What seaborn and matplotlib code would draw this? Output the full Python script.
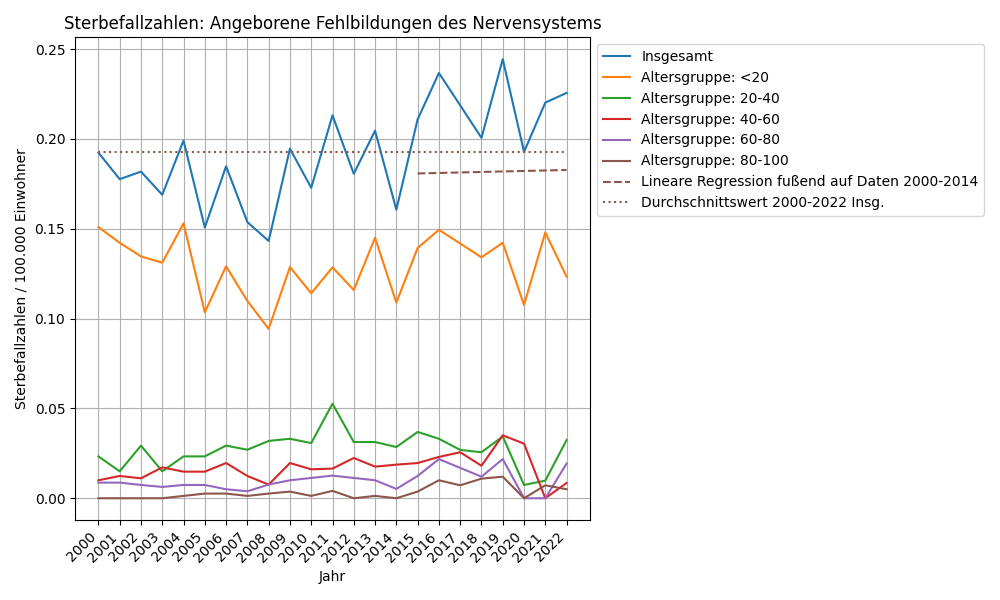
import numpy as np
import pandas as pd
import matplotlib
matplotlib.use('Agg')
import matplotlib.pyplot as plt
import seaborn as sns

jahre = list(range(2000, 2023))

insgesamt = [0.1924, 0.1776, 0.1818, 0.1689, 0.1991, 0.1507, 0.1848, 0.1537, 0.1432, 0.1946,
             0.1728, 0.2131, 0.1806, 0.2046, 0.1606, 0.2109, 0.2367, 0.2187, 0.2006, 0.2444,
             0.1928, 0.2202, 0.2256]
unter_20 = [0.1509, 0.1422, 0.1346, 0.1311, 0.1530, 0.1035, 0.1291, 0.1098, 0.0943, 0.1287,
            0.1141, 0.1285, 0.1159, 0.1450, 0.1089, 0.1393, 0.1494, 0.1418, 0.1341, 0.1422,
            0.1076, 0.1479, 0.1233]
ag_20_40 = [0.0233, 0.0150, 0.0293, 0.0150, 0.0233, 0.0233, 0.0293, 0.0270, 0.0319, 0.0331,
            0.0307, 0.0526, 0.0313, 0.0313, 0.0285, 0.0369, 0.0331, 0.0269, 0.0256, 0.0344,
            0.0074, 0.0098, 0.0324]
ag_40_60 = [0.0100, 0.0124, 0.0111, 0.0172, 0.0148, 0.0148, 0.0196, 0.0124, 0.0076, 0.0196,
            0.0161, 0.0165, 0.0224, 0.0176, 0.0187, 0.0196, 0.0230, 0.0256, 0.0181, 0.0350,
            0.0304, 0.0000, 0.0085]
ag_60_80 = [0.0087, 0.0087, 0.0074, 0.0063, 0.0074, 0.0074, 0.0050, 0.0039, 0.0076, 0.0100,
            0.0113, 0.0126, 0.0113, 0.0100, 0.0052, 0.0124, 0.0218, 0.0169, 0.0120, 0.0218,
            0.0000, 0.0000, 0.0193]
ag_80_100 = [0.0000, 0.0000, 0.0000, 0.0000, 0.0013, 0.0026, 0.0026, 0.0013, 0.0026, 0.0037,
             0.0013, 0.0041, 0.0000, 0.0013, 0.0000, 0.0037, 0.0100, 0.0072, 0.0109, 0.0120,
             0.0000, 0.0072, 0.0050]

reihen = {
    'Insgesamt': insgesamt,
    'Altersgruppe: <20': unter_20,
    'Altersgruppe: 20-40': ag_20_40,
    'Altersgruppe: 40-60': ag_40_60,
    'Altersgruppe: 60-80': ag_60_80,
    'Altersgruppe: 80-100': ag_80_100,
}

df = pd.DataFrame([
    {'Jahr': j, 'Wert': w, 'Gruppe': name}
    for name, werte in reihen.items()
    for j, w in zip(jahre, werte)
])

# Regression auf 2000-2014, Prognose 2015-2022
jahre_arr = np.array(jahre)
fit_mask = jahre_arr <= 2014
coef = np.polyfit(jahre_arr[fit_mask], np.array(insgesamt)[fit_mask], 1)
jahre_prog = jahre_arr[~fit_mask]
prog = np.polyval(coef, jahre_prog)
mittel = np.mean(insgesamt)

fig, ax = plt.subplots(figsize=(10, 6), dpi=100)
sns.lineplot(data=df, x='Jahr', y='Wert', hue='Gruppe', palette='tab10', ax=ax)
ax.plot(jahre_prog, prog, linestyle='--', color='tab:brown',
        label='Lineare Regression fußend auf Daten 2000-2014')
ax.plot(jahre, [mittel] * len(jahre), linestyle=':', color='tab:brown',
        label='Durchschnittswert 2000-2022 Insg.')

ax.set_xticks(jahre)
ax.set_xticklabels([str(j) for j in jahre], rotation=45, ha='right')
ax.set_title('Sterbefallzahlen: Angeborene Fehlbildungen des Nervensystems')
ax.set_xlabel('Jahr')
ax.set_ylabel('Sterbefallzahlen / 100.000 Einwohner')
ax.grid(True)
ax.legend(loc='upper left', bbox_to_anchor=(1, 1))

plt.subplots_adjust(left=0.075, right=0.59, top=0.938, bottom=0.133)
plt.savefig('out.png')
